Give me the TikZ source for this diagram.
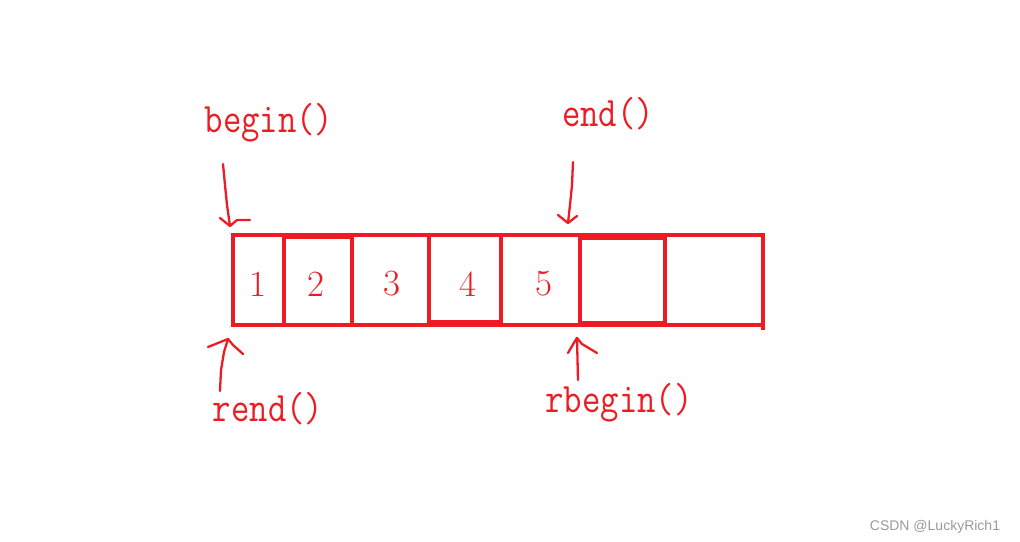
\documentclass[tikz,border=0pt]{standalone}
\usepackage{fontspec}
\usepackage{graphicx}
\newfontfamily\wmfont{Liberation Sans}
\usetikzlibrary{positioning}
\definecolor{paintred}{HTML}{ED1C24}
\definecolor{wmgray}{HTML}{9A9A9A}
\tikzset{
  pen/.style={draw=paintred, line width=4.5pt, line cap=rect},
  stroke/.style={draw=paintred, line width=2.3pt, line cap=round, line join=round},
  lbl/.style={text=paintred, font=\fontsize{42}{42}\selectfont\ttfamily, inner sep=0pt, anchor=base},
  digit/.style={text=paintred, font=\fontsize{37}{37}\selectfont\rmfamily, inner sep=0pt},
}
\newcommand{\narrow}[1]{\scalebox{0.85}[1]{#1}}

\begin{document}
\begin{tikzpicture}[x=1pt,y=-1pt]
\useasboundingbox (0,0) rectangle (1020,541);

% the array
\draw[pen] (233,235) rectangle (763,325);
\foreach \xx in {284,352,429,501,580,665}
  \draw[pen] (\xx,235) -- (\xx,325);
\draw[pen, line width=2pt] (284,238) -- (352,238);
\draw[pen, line width=3pt] (429,321) -- (501,321);
\draw[pen, line width=3pt] (580,238) -- (665,238);
\draw[pen, line width=2pt] (580,322) -- (665,322);
\draw[pen] (763,325) -- (763,328);

\node[digit] (n1) at (258,284) {1};
\node[digit] (n2) at (316,284) {2};
\node[digit] (n3) at (392,284) {3};
\node[digit] (n4) at (468,284) {4};
\node[digit] (n5) at (544,284) {5};

% labels
\node[lbl] (begin)  at (269,132) {\narrow{begin()}};
\node[lbl] (end)    at (608,126) {\narrow{end()}};
\node[lbl] (rend)   at (268,421) {\narrow{rend()}};
\node[lbl] (rbegin) at (619,412) {\narrow{rbegin()}};

% hand drawn arrows
\coordinate (bt) at (230,226);
\coordinate (et) at (568,223);
\coordinate (rt) at (228,339);
\coordinate (rbt) at (577,338);

\draw[stroke] (223,164) -- (225,185) -- (227,205) -- (bt);
\draw[stroke] (220,218) -- (bt) -- (237,220) -- (250,220);

\draw[stroke] (573,162) -- (572,185) -- (570,205) -- (et);
\draw[stroke] (558,215) -- (et) -- (577,216);

\draw[stroke] (220,391) -- (221,370) -- (224,352) -- (rt);
\draw[stroke] (208,347) -- (223,341) -- (rt) -- (233,345) -- (243,354);

\draw[stroke] (578,380) -- (rbt);
\draw[stroke] (568,353) -- (575,341) -- (rbt) -- (582,344) -- (597,353);

% watermark
\node[text=wmgray, font=\wmfont\fontsize{14}{14}\selectfont, inner sep=0pt, anchor=base] (wm) at (935,530) {CSDN @LuckyRich1};
\end{tikzpicture}
\end{document}
